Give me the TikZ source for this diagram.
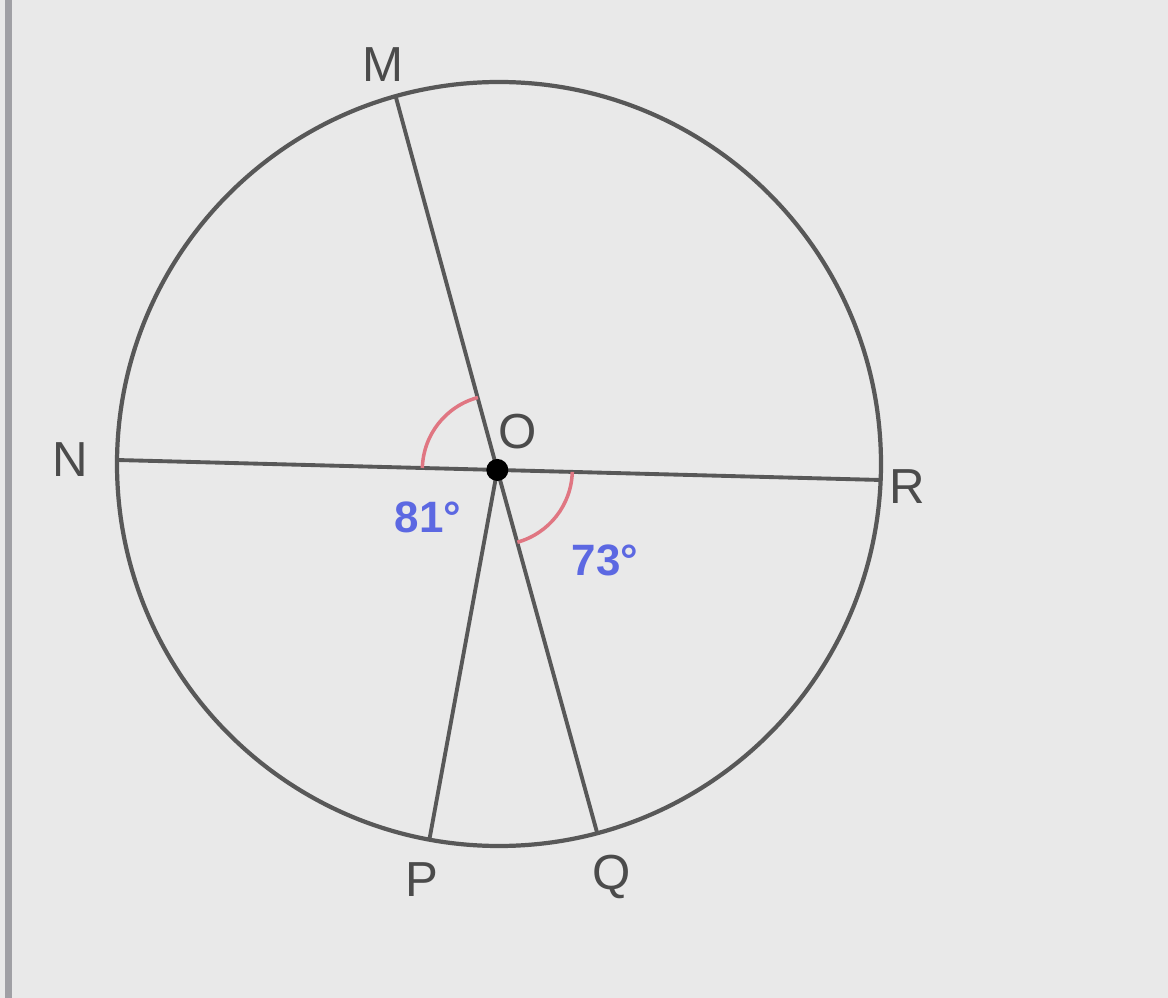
\documentclass[tikz,border=0pt]{standalone}
\usepackage{fontspec}
\setmainfont{Liberation Sans}
\usetikzlibrary{calc, positioning}
\definecolor{linegray}{RGB}{88,88,88}
\definecolor{textgray}{RGB}{75,75,75}
\definecolor{arcred}{RGB}{224,118,130}
\definecolor{labelblue}{RGB}{92,104,226}
\definecolor{bggray}{RGB}{233,233,233}
\definecolor{framegray}{RGB}{160,160,165}
\tikzset{
    chord/.style={draw=linegray, line width=1.1pt},
    rim/.style={draw=linegray, line width=1.2pt},
    anglearc/.style={draw=arcred, line width=1pt},
    ptlabel/.style={text=textgray, inner sep=0pt, font=\fontsize{14}{14}\selectfont},
    anglelabel/.style={text=labelblue, inner sep=0pt, font=\bfseries\fontsize{12.5}{12.5}\selectfont},
    centerdot/.style={circle, fill=black, minimum size=0.22cm, inner sep=0pt}
}
\begin{document}
\begin{tikzpicture}
    % Page background and frame edge
    \fill[bggray] (0,0) rectangle (11.68,9.98);
    \useasboundingbox (0,0) rectangle (11.68,9.98);
    \fill[framegray] (0.05,0) rectangle (0.12,9.98);
    % Circle
    \coordinate (C) at (4.99,5.34);
    \draw[rim] (C) circle[radius=3.82];
    % Points on the circle
    \coordinate (M) at ($(C)+(105.7:3.82)$);
    \coordinate (N) at ($(C)+(179.4:3.82)$);
    \coordinate (R) at ($(C)+(-2.4:3.82)$);
    \coordinate (P) at ($(C)+(259.5:3.82)$);
    \coordinate (Q) at ($(C)+(284.9:3.82)$);
    \coordinate (O) at ($(N)!0.498!(R)$);
    % Chords through O
    \draw[chord] (N) -- (R);
    \draw[chord] (O) -- (M);
    \draw[chord] (O) -- (P);
    \draw[chord] (O) -- (Q);
    % Angle marks
    \draw[anglearc] ([shift={(105:0.75)}]O) arc[start angle=105, end angle=178.5, radius=0.75];
    \draw[anglearc] ([shift={(-74.5:0.75)}]O) arc[start angle=-74.5, end angle=-1.5, radius=0.75];
    \node[centerdot] (Odot) at (O) {};
    % Labels
    \node[ptlabel] (labM) at (3.83,9.33) {M};
    \node[ptlabel] (labN) at (0.70,5.38) {N};
    \node[ptlabel] (labO) at (5.18,5.66) {O};
    \node[ptlabel] (labR) at (9.07,5.11) {R};
    \node[ptlabel] (labP) at (4.22,1.18) {P};
    \node[ptlabel] (labQ) at (6.12,1.21) {Q};
    \node[anglelabel] (ang81) at (4.28,4.81) {81°};
    \node[anglelabel] (ang73) at (6.05,4.38) {73°};
\end{tikzpicture}
\end{document}
